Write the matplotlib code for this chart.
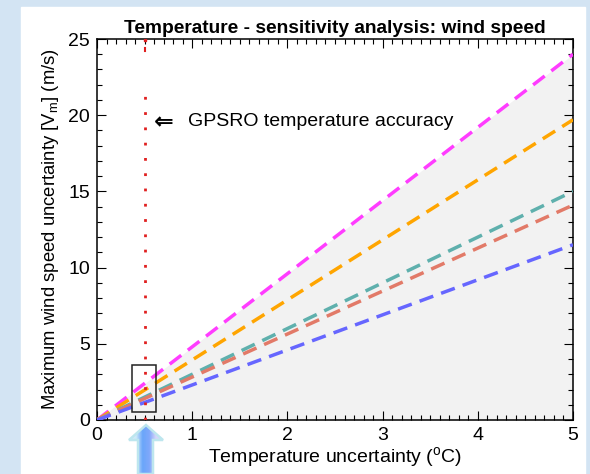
import matplotlib
matplotlib.use("Agg")
import matplotlib.pyplot as plt
import numpy as np
from matplotlib.patches import Polygon, Rectangle
from matplotlib.colors import LinearSegmentedColormap

plt.rcParams['font.family'] = ['Liberation Sans', 'DejaVu Sans']
plt.rcParams['mathtext.fontset'] = 'custom'
plt.rcParams['mathtext.rm'] = 'Liberation Sans'

# data
temp_unc = [0.0, 5.0]
wind_magenta = [0.0, 24.0]
wind_orange = [0.0, 19.7]
wind_teal = [0.0, 15.0]
wind_salmon = [0.0, 14.1]
wind_blue = [0.0, 11.5]
gpsro_acc = 0.5
gpsro_line_top = 22.0
box_x = [0.37, 0.62]
box_y = [0.5, 3.6]

series = [
    (wind_magenta, '#ff3cff'),
    (wind_orange, '#ffa500'),
    (wind_teal, '#5fb0ad'),
    (wind_salmon, '#e27a68'),
    (wind_blue, '#6666ff'),
]

W, H = 590, 474
fig = plt.figure(figsize=(W / 100, H / 100), dpi=100)

# background with white panel and blue arrow, in pixel coordinates
bg = fig.add_axes([0, 0, 1, 1], zorder=0)
bg.set_xlim(0, W)
bg.set_ylim(H, 0)
bg.axis('off')
bg.add_patch(Rectangle((0, 0), W, H, color='#d3e4f3', zorder=0))
bg.add_patch(Rectangle((21, 7), 564, H - 7, color='white', zorder=0.5))

arrow_pts = [(138, 474), (138, 440), (129, 440), (146, 425), (163, 440),
             (153, 440), (153, 474)]
cmap = LinearSegmentedColormap.from_list(
    'arr', ['#cfeaf8', '#cfeaf8', '#6aa6fa', '#7fa8fa', '#d6d6fb', '#d6d6fb'])
grad = np.linspace(0, 1, 64).reshape(1, -1)
im = bg.imshow(grad, cmap=cmap, extent=(129, 163, 474, 425), aspect='auto',
               zorder=2)
poly = Polygon(arrow_pts, closed=True, facecolor='none',
               edgecolor='#bde6ee', linewidth=1.8, zorder=3)
bg.add_patch(poly)
im.set_clip_path(poly)
bg.set_xlim(0, W)
bg.set_ylim(H, 0)

ax = fig.add_axes([97 / W, 1 - 420 / H, 476 / W, 381 / H], zorder=1)
ax.patch.set_alpha(0)

ax.fill_between(temp_unc, [0, 0], wind_magenta, color='#f2f2f2', lw=0,
                zorder=1)
for vals, c in series:
    ax.plot(temp_unc, vals, color=c, lw=2.5, dashes=(4.2, 2.4), zorder=3)

ax.plot([gpsro_acc, gpsro_acc], [0, gpsro_line_top], color='#e02020',
        lw=2.0, linestyle=(0, (1, 4.5)), zorder=4)
ax.plot([gpsro_acc, gpsro_acc], [24.2, 24.4], color='#e02020', lw=1.5,
        zorder=4)
ax.plot([gpsro_acc], [24.95], 's', color='#e02020', ms=2, zorder=4)

ax.add_patch(Rectangle((box_x[0], box_y[0]), box_x[1] - box_x[0],
                       box_y[1] - box_y[0], fill=False, edgecolor='#222222',
                       lw=1.1, zorder=5))

ax.text(0.6, 19.5, '\u21d0', fontsize=17, fontweight='bold', va='center',
        ha='left', family='DejaVu Sans')
ax.text(0.96, 19.6, 'GPSRO temperature accuracy', fontsize=14,
        va='center', ha='left')

ax.set_xlim(0, 5)
ax.set_ylim(0, 25)
ax.set_xticks(range(0, 6))
ax.set_yticks(range(0, 26, 5))
ax.set_xticks(np.arange(0, 5.01, 0.1), minor=True)
ax.set_yticks(range(0, 26), minor=True)
ax.tick_params(which='both', direction='in', top=True, right=True,
               width=0.8, labelsize=14, pad=5)
ax.tick_params(which='major', length=6.5)
ax.tick_params(which='minor', length=3.5)
for s in ax.spines.values():
    s.set_linewidth(1.1)

ax.set_xlabel(r'Temperature uncertainty ($^\mathregular{o}$C)', fontsize=14,
              labelpad=1)
ax.set_ylabel(r'Maximum wind speed uncertainty [V$_\mathregular{m}$] (m/s)',
              fontsize=13.3, labelpad=5)
ax.set_title('Temperature - sensitivity analysis: wind speed',
             fontsize=13.8, fontweight='bold', pad=4)

fig.savefig('out.png', dpi=100)
